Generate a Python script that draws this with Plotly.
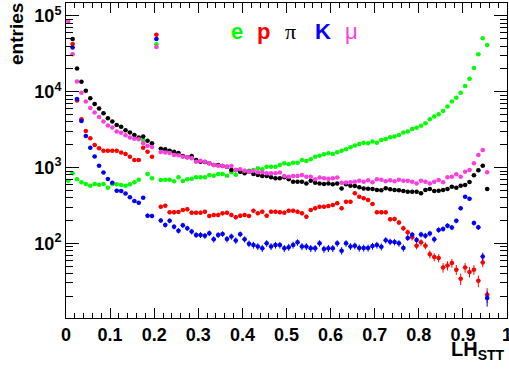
import numpy as np
import plotly.graph_objects as go

# bin centres of LH_STT (bin width 0.01)
lh_bins = [round(0.005 + 0.01 * i, 3) for i in range(96)]

e_vals = [671, 841, 700, 640, 605, 577, 608, 595, 608, 540,
          608, 600, 590, 575, 600, 640, 690, 2310, 823, 722,
          42300, 685, 690, 690, 660, 745, 665, 700, 713, 745,
          745, 745, 798, 781, 823, 823, 781, 867, 805, 883,
          910, 910, 929, 978, 949, 1028, 1028, 1028, 1082, 1140,
          1105, 1160, 1160, 1259, 1222, 1286, 1393, 1436, 1497, 1545,
          1510, 1590, 1670, 1740, 1850, 1950, 2050, 2130, 2090, 2200,
          2130, 2310, 2380, 2510, 2560, 2690, 2890, 2980, 3230, 3360,
          3570, 3840, 4340, 4700, 5050, 5580, 6370, 7410, 8360, 9730,
          11900, 14900, 20600, 31300, 50800, 41400]

p_vals = [None, 42600, 7640, 4340, 3040, 2430, 1990, 1800, 1670, 1670,
          1670, 1670, 1574, 1511, 1393, 1259, 1259, 1830, 1620, 1393,
          56600, 305, 314, 257, 257, 260, 276, 282, 254, 254,
          254, 262, 230, 237, 237, 249, 254, 237, 221, 232,
          237, 230, 270, 249, 262, 232, 262, 262, 257, 254,
          270, 270, 262, 249, 225, 276, 290, 305, 305, 311,
          321, 338, 290, 355, 355, 458, 413, 393, 374, 331,
          257, 257, 257, 208, 210, 188, 158, 140, 120, 93,
          103, 93, 72, 66, 64, 48, 51, 55, 45, 34,
          48, 42, 45, 32, 56, 21]

pi_vals = [None, 49800, 20200, 13600, 10300, 8200, 6900, 6000, 5200, 4480,
           4060, 3650, 3450, 3100, 2900, 2690, 2490, 2560, 2250, 2100,
           None, 1770, 1742, 1660, 1610, 1560, 1423, 1368, 1423, 1259,
           1197, 1186, 1140, 1082, 1082, 1050, 1028, 929, 929, 883,
           841, 883, 823, 798, 774, 774, 745, 722, 722, 745,
           700, 652, 652, 652, 617, 672, 632, 617, 608, 617,
           600, 617, 530, 600, 577, 570, 550, 530, 525, 520,
           506, 500, 533, 517, 506, 500, 491, 481, 481, 481,
           458, 506, 523, 491, 496, 506, 523, 559, 543, 577,
           589, 645, 790, 920, 1059, 523]

k_vals = [None, 38300, 8040, 4120, 2610, 1830, 1400, 1060, 858, 708,
          630, 496, 490, 455, 406, 362, 344, 400, 232, 230,
          49700, 200, 175, 198, 166, 147, 173, 158, 143, 129,
          129, 126, 136, 113, 129, 133, 114, 123, 109, 132,
          113, 99, 95, 91, 86, 100, 91, 95, 95, 86,
          89, 95, 103, 91, 91, 86, 86, 100, 84, 86,
          86, 100, 80, 100, 91, 93, 87, 87, 87, 92,
          95, 90, 110, 105, 104, 100, 87, 118, 130, 111,
          131, 126, 135, 113, 150, 155, 171, 162, 198, 290,
          413, 387, 186, 163, 67, 19]

mu_vals = [85000, 31300, 13700, 9700, 7450, 6100, 5330, 4650, 4040, 3600,
           3380, 2980, 2870, 2660, 2500, 2400, 2370, 2100, 1940, 1870,
           39000, 1605, 1580, 1560, 1466, 1450, 1393, 1368, 1327, 1197,
           1233, 1197, 1140, 1082, 1059, 1050, 1028, 1050, 929, 949,
           910, 883, 910, 867, 867, 841, 841, 841, 858, 774,
           759, 774, 774, 798, 759, 759, 700, 740, 722, 710,
           720, 740, 630, 635, 640, 650, 670, 650, 680, 640,
           700, 690, 660, 680, 660, 690, 670, 670, 650, 617,
           670, 652, 617, 652, 685, 640, 745, 759, 816, 759,
           883, 929, 1140, 1466, 1706, 867]

x_tick_vals = [0, 0.1, 0.2, 0.3, 0.4, 0.5, 0.6, 0.7, 0.8, 0.9, 1]
x_tick_text = ["0", "0.1", "0.2", "0.3", "0.4", "0.5", "0.6", "0.7", "0.8", "0.9", "1"]
x_minor_ticks = [round(0.02 * i, 2) for i in range(51)]
y_tick_vals = [100, 1000, 10000, 100000]
y_tick_text = ["10<sup>2</sup>", "10<sup>3</sup>", "10<sup>4</sup>", "10<sup>5</sup>"]
y_minor_ticks = [m * 10 ** n for n in range(1, 6) for m in range(2, 10)
                 if m * 10 ** n < 150000]

series = [
    ("e", e_vals, "#00ff00"),
    ("p", p_vals, "#ff0000"),
    ("pi", pi_vals, "#000000"),
    ("K", k_vals, "#0000ff"),
    ("mu", mu_vals, "#ff3ee0"),
]

fig = go.Figure()
for name, vals, col in series:
    errs = [None if v is None else float(np.sqrt(v)) for v in vals]
    fig.add_trace(go.Scatter(
        x=lh_bins, y=vals, mode="markers", name=name,
        marker=dict(color=col, size=4.5, line=dict(width=0)),
        error_y=dict(type="data", array=errs, visible=True, color=col,
                     thickness=1, width=0),
        error_x=dict(type="constant", value=0.005, visible=True, color=col,
                     thickness=1, width=0),
        showlegend=False,
    ))

font_fam = "Liberation Sans, Arial, Helvetica, sans-serif"

fig.update_layout(
    width=509, height=369,
    margin=dict(l=66, r=2, t=3, b=51, autoexpand=False),
    paper_bgcolor="white", plot_bgcolor="white",
    xaxis=dict(
        range=[0, 1], showgrid=False, zeroline=False, automargin=False,
        showline=True, linecolor="black", linewidth=1, mirror="allticks",
        ticks="inside", ticklen=10, tickcolor="black", tickwidth=1,
        tickvals=x_tick_vals, ticktext=x_tick_text,
        ticklabeloverflow="allow",
        tickfont=dict(family=font_fam, size=18, color="black", weight="bold"),
        minor=dict(ticks="inside", ticklen=5, tickvals=x_minor_ticks,
                   tickcolor="black", showgrid=False),
    ),
    yaxis=dict(
        type="log", range=[1.015, 5.171], showgrid=False, zeroline=False,
        automargin=False,
        showline=True, linecolor="black", linewidth=1, mirror="allticks",
        ticks="inside", ticklen=13, tickcolor="black", tickwidth=1,
        tickvals=y_tick_vals, ticktext=y_tick_text,
        ticklabeloverflow="allow",
        tickfont=dict(family=font_fam, size=18, color="black", weight="bold"),
        minor=dict(ticks="inside", ticklen=7, tickcolor="black", showgrid=False,
                   tickvals=y_minor_ticks),
    ),
)

fig.add_annotation(text="<b>entries</b>", xref="paper", yref="paper",
                   x=(16 - 66) / 441, y=(318 - 34) / 315, textangle=-90,
                   showarrow=False, xanchor="center", yanchor="middle",
                   font=dict(family=font_fam, size=19, color="black"))
fig.add_annotation(text="<b>LH<sub>STT</sub></b>", xref="paper", yref="paper",
                   x=1.0, y=(318 - 350) / 315, showarrow=False,
                   xanchor="right", yanchor="middle",
                   font=dict(family=font_fam, size=20, color="black"))

labels = [("<b>e</b>", 236.7, "#00ff00", font_fam),
          ("<b>p</b>", 263.3, "#ff0000", font_fam),
          ("\u03c0", 290, "#000000", "Liberation Serif, serif"),
          ("<b>K</b>", 323.3, "#0000ff", font_fam),
          ("\u03bc", 351.7, "#ff3ee0", font_fam)]
for txt, px, col, fam in labels:
    fig.add_annotation(text=txt, xref="paper", yref="paper",
                       x=(px - 66) / 441, y=(318 - 31) / 315, showarrow=False,
                       xanchor="center", yanchor="middle",
                       font=dict(family=fam, size=22, color=col))

fig.write_html("out.html",
               config={"displayModeBar": False},
               post_script="document.body.style.margin='0';document.body.style.padding='0';")
